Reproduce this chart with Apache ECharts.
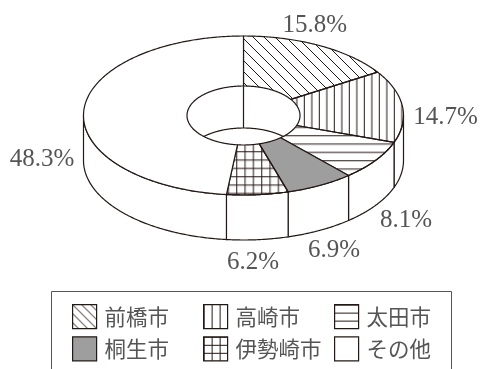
<!DOCTYPE html>
<html>
<head>
<meta charset="utf-8">
<style>html,body{margin:0;padding:0;background:#fff}#c{width:481px;height:369px}</style>
<script src="https://cdn.jsdelivr.net/npm/echarts@6/dist/echarts.min.js"></script>
</head>
<body>
<div id="c"></div>
<script>
// ---- data ----
const categories = ['前橋市', '高崎市', '太田市', '桐生市', '伊勢崎市', 'その他'];
const shares = [15.8, 14.7, 8.1, 6.9, 6.2, 48.3];
const shareLabels = ['15.8%', '14.7%', '8.1%', '6.9%', '6.2%', '48.3%'];

// ---- layout and style ----
const C = { x: 243.5, y: 115.5, rx: 160, ry: 79.5, irx: 56.5, iry: 29.5, depth: 45, innerDepth: 42 };
const labelOffsets = [[-5, -20.5], [43, 11], [30.5, 59.6], [14, 65], [-4.5, 67.3], [-41.7, 48.4]];
const LINE = '#231815', TEXT = '#555555', GREY = '#9e9e9e';

function tile(w, h, draw, x, y) {
  const cv = document.createElement('canvas');
  cv.width = w; cv.height = h;
  const g = cv.getContext('2d');
  g.strokeStyle = LINE; g.lineWidth = 1;
  draw(g);
  return { image: cv, repeat: 'repeat', x: x || 0, y: y || 0 };
}
const line = (g, x0, y0, x1, y1) => { g.beginPath(); g.moveTo(x0, y0); g.lineTo(x1, y1); g.stroke(); };
const diag = s => g => { line(g, -2, -2, s + 2, s + 2); line(g, s - 2, -2, s + 2, 2); line(g, -2, s - 2, 2, s + 2); };
const vLines = xs => g => xs.forEach(x => line(g, x, 0, x, 25));
const hLines = ys => g => ys.forEach(y => line(g, 0, y, 25, y));
const thirds = [0.5, 8.83, 17.17];
// fills of the chart faces
const fills = [
  tile(11, 11, diag(11), 7, 0),
  tile(15, 8, vLines([0.5, 8]), 3.8, 0),
  tile(8, 25, hLines(thirds), 0, 10.2),
  GREY,
  tile(25, 25, g => { vLines(thirds)(g); hLines(thirds)(g); }, 11.2, 1.2),
  '#ffffff'
];
// fills of the legend swatches
const swatchFills = [
  tile(9, 9, diag(9)),
  tile(8, 8, vLines([0.5])),
  tile(8, 8, hLines([0.5])),
  GREY,
  tile(8, 8, g => { vLines([0.5])(g); hLines([0.5])(g); }),
  '#ffffff'
];

const total = shares.reduce((a, b) => a + b, 0);
const starts = shares.map((_, i) => shares.slice(0, i).reduce((a, b) => a + b, 0));
const toAngle = v => v / total * 2 * Math.PI;
const pt = (a, rx, ry, dy) => [C.x + rx * Math.sin(a), C.y + (dy || 0) - ry * Math.cos(a)];
function arc(a0, a1, rx, ry, dy) {
  const n = Math.max(2, Math.ceil(Math.abs(a1 - a0) / 0.01));
  const out = [];
  for (let i = 0; i <= n; i++) out.push(pt(a0 + (a1 - a0) * i / n, rx, ry, dy));
  return out;
}
const stroke = { stroke: LINE, lineWidth: 1.2, lineJoin: 'round' };

function sliceRender(i) {
  return function (params, api) {
    const a0 = toAngle(api.value(1)), a1 = a0 + toAngle(api.value(0));
    const children = [];
    // visible part of the outer wall
    const w0 = Math.max(a0, Math.PI / 2), w1 = Math.min(a1, 3 * Math.PI / 2);
    if (w1 > w0) {
      children.push({
        type: 'polygon', silent: true,
        shape: { points: arc(w0, w1, C.rx, C.ry, 0).concat(arc(w1, w0, C.rx, C.ry, C.depth)) },
        style: Object.assign({ fill: '#ffffff' }, stroke)
      });
    }
    // top face
    children.push({
      type: 'polygon', silent: true,
      shape: { points: arc(a0, a1, C.rx, C.ry).concat(arc(a1, a0, C.irx, C.iry)) },
      style: Object.assign({ fill: fills[i] }, stroke)
    });
    // share label
    const mid = pt((a0 + a1) / 2, C.rx, C.ry);
    children.push({
      type: 'text', silent: true,
      x: mid[0] + labelOffsets[i][0], y: mid[1] + labelOffsets[i][1],
      style: { text: shareLabels[i], fill: TEXT, font: '25px "Liberation Serif"', align: 'center', verticalAlign: 'middle' }
    });
    return { type: 'group', children };
  };
}

function holeRender() {
  // back wall of the hole: seam at the start angle and the lower rim seen through it
  const half = Math.acos((C.innerDepth / 2) / C.iry);
  return {
    type: 'group',
    children: [
      { type: 'polyline', silent: true,
        shape: { points: [pt(0, C.irx, C.iry), pt(0, C.irx, C.iry, C.innerDepth)] },
        style: Object.assign({ fill: 'none' }, stroke) },
      { type: 'polyline', silent: true,
        shape: { points: arc(-half, half, C.irx, C.iry, C.innerDepth) },
        style: Object.assign({ fill: 'none' }, stroke) }
    ]
  };
}

const series = categories.map((name, i) => ({
  type: 'custom', name, coordinateSystem: 'none', animation: false,
  itemStyle: { color: swatchFills[i], borderColor: LINE, borderWidth: 1.2 },
  encode: { value: [0, 1] },
  data: [[shares[i], starts[i]]],
  renderItem: sliceRender(i)
}));
series.push({
  type: 'custom', name: 'hole', coordinateSystem: 'none', animation: false,
  data: [[0]], renderItem: holeRender
});

function legendColumn(names, left) {
  return {
    orient: 'vertical', left, top: 304, itemWidth: 24, itemHeight: 24, itemGap: 7,
    padding: 0, selectedMode: false, icon: 'rect',
    textStyle: { fontFamily: '"Noto Sans CJK JP"', fontSize: 21.5, color: TEXT, padding: [0, 0, 0, 3] },
    data: names.map(name => {
      const i = categories.indexOf(name);
      return { name, icon: 'rect', itemStyle: { color: swatchFills[i], borderColor: LINE, borderWidth: 1.2 } };
    })
  };
}

const chart = echarts.init(document.getElementById('c'), null, { renderer: 'canvas' });
chart.setOption({
  animation: false,
  backgroundColor: '#ffffff',
  legend: [
    legendColumn([categories[0], categories[3]], 72),
    legendColumn([categories[1], categories[4]], 203),
    legendColumn([categories[2], categories[5]], 334)
  ],
  graphic: [{
    type: 'polyline', silent: true,
    shape: { points: [[51.5, 369], [51.5, 291.5], [451.5, 291.5], [451.5, 369]] },
    style: { fill: 'none', stroke: '#555555', lineWidth: 1 }
  }],
  series
});
</script>
</body>
</html>
